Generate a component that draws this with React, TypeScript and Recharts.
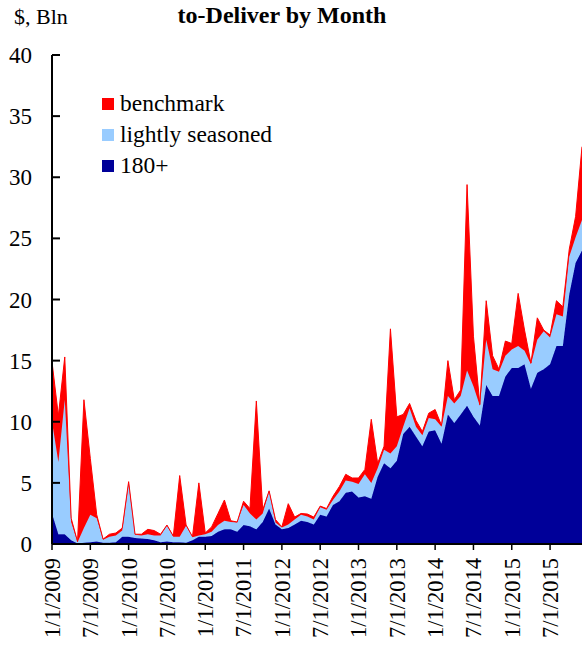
import React from 'react';
import { AreaChart, Area, XAxis, YAxis, Legend } from 'recharts';

const FONT = '"Liberation Serif", "Times New Roman", serif';

// monthly categories, Jan 2009 .. Dec 2015
const months = Array.from({ length: 84 }, (_, i) => `${(i % 12) + 1}/1/${2009 + Math.floor(i / 12)}`);

const yTicks = [0, 5, 10, 15, 20, 25, 30, 35, 40];

// $ bln
const seasoned180 = [
  2.5, 0.8, 0.8, 0.3, 0.05, 0.1, 0.15, 0.2, 0.1, 0.1,
  0.15, 0.6, 0.6, 0.5, 0.45, 0.4, 0.3, 0.15, 0.2, 0.15,
  0.15, 0.1, 0.3, 0.6, 0.6, 0.65, 1.0, 1.2, 1.2, 1.0,
  1.55, 1.45, 1.2, 1.8, 2.9, 1.6, 1.2, 1.3, 1.6, 1.9,
  1.8, 1.6, 2.4, 2.25, 3.2, 3.5, 4.2, 4.3, 3.8, 3.9,
  3.7, 5.5, 6.6, 6.2, 6.8, 9.0, 9.6, 8.8, 8.0, 9.2,
  9.3, 8.2, 10.6, 9.9, 10.6, 11.3, 10.4, 9.7, 13.0, 12.1,
  12.1, 13.7, 14.4, 14.4, 14.7, 12.7, 14.0, 14.3, 14.7, 16.2,
  16.2, 20.4, 23.0, 24.0,
];

const lightlySeasoned = [
  7.5, 5.9, 11.0, 1.5, 0.1, 1.2, 2.25, 1.9, 0.25, 0.5,
  0.55, 0.5, 4.3, 0.25, 0.25, 0.4, 0.4, 0.55, 1.3, 0.45,
  0.45, 1.4, 0.25, 0.1, 0.2, 0.35, 0.55, 0.7, 0.6, 0.75,
  1.65, 1.05, 0.8, 0.7, 1.4, 0.15, 0.15, 0.3, 0.4, 0.5,
  0.45, 0.4, 0.6, 0.55, 0.4, 0.8, 1.0, 0.8, 1.1, 1.8,
  1.3, 0.7, 1.1, 1.2, 1.2, 0.6, 1.5, 0.8, 0.9, 1.1,
  0.9, 1.4, 1.5, 1.6, 1.5, 2.9, 2.5, 1.6, 3.7, 2.2,
  2.0, 1.7, 1.5, 1.8, 1.1, 2.0, 2.7, 3.1, 2.2, 2.6,
  2.4, 3.1, 2.1, 2.5,
];

const benchmark = [
  4.9, 3.8, 3.5, 0.3, 0.05, 10.5, 4.6, 0.3, 0.05, 0.2,
  0.2, 0.2, 0.2, 0.05, 0.1, 0.4, 0.4, 0.1, 0.05, 0.05,
  5.0, 0.05, 0.05, 4.3, 0.1, 0.4, 0.95, 1.7, 0.1, 0.05,
  0.3, 0.4, 9.7, 0.3, 0.05, 0.25, 0.05, 1.7, 0.2, 0.1,
  0.2, 0.2, 0.1, 0.1, 0.3, 0.4, 0.5, 0.3, 0.5, 0.4,
  5.2, 0.4, 0.3, 10.2, 2.4, 1.0, 0.4, 0.5, 0.3, 0.4,
  0.8, 0.1, 2.9, 0.3, 0.5, 15.2, 4.1, 0.1, 3.2, 1.1,
  0.2, 1.2, 0.5, 4.3, 1.7, 0.1, 1.8, 0.1, 0.2, 1.1,
  0.8, 0.6, 1.7, 6.0,
];

const data = months.map((month, i) => ({
  month,
  s180: seasoned180[i],
  lightly: lightlySeasoned[i],
  bench: benchmark[i],
}));

const legendItems = [
  { name: 'benchmark', color: '#FF0000' },
  { name: 'lightly seasoned', color: '#99CCFF' },
  { name: '180+', color: '#000099' },
];

const YTick = (props: any) => {
  const { x, y, payload } = props;
  return (
    <g>
      <line x1={x} x2={x + 8} y1={y} y2={y} stroke="#000" strokeWidth={2} />
      <text x={x - 20} y={y} dy="0.35em" textAnchor="end" fontFamily={FONT} fontSize={23} fill="#000">
        {payload.value}
      </text>
    </g>
  );
};

const XTick = (props: any) => {
  const { x, y, payload } = props;
  return (
    <text
      x={x}
      y={y}
      dy="0.35em"
      textAnchor="end"
      transform={`rotate(-90, ${x}, ${y})`}
      fontFamily={FONT}
      fontSize={22.5}
      fill="#000"
    >
      {payload.value}
    </text>
  );
};

const LegendBox = () => (
  <div style={{ fontFamily: FONT, fontSize: 23.5, lineHeight: '31px', color: '#000' }}>
    {legendItems.map((it) => (
      <div key={it.name} style={{ display: 'flex', alignItems: 'center', whiteSpace: 'nowrap' }}>
        <span style={{ display: 'inline-block', width: 12, height: 12, background: it.color, marginRight: 6 }} />
        <span>{it.name}</span>
      </div>
    ))}
  </div>
);

export default function App() {
  return (
    <div style={{ position: 'absolute', left: 0, top: 0, width: 582, height: 645, background: '#fff', overflow: 'hidden' }}>
      <AreaChart width={582} height={645} data={data} margin={{ top: 55, right: 0, bottom: 0, left: 0 }}>
        <XAxis
          dataKey="month"
          interval={5}
          height={101}
          tickSize={6}
          tickMargin={8}
          axisLine={{ stroke: '#000', strokeWidth: 2 }}
          tickLine={{ stroke: '#000', strokeWidth: 1.5 }}
          tick={<XTick />}
        />
        <YAxis
          width={52}
          domain={[0, 40]}
          ticks={yTicks}
          tickSize={0}
          tickMargin={0}
          tickLine={false}
          axisLine={{ stroke: '#000', strokeWidth: 2 }}
          tick={<YTick />}
          allowDataOverflow
        />
        <Legend
          layout="vertical"
          align="center"
          verticalAlign="middle"
          wrapperStyle={{ left: 102, top: 88, width: 'auto' }}
          content={() => <LegendBox />}
        />
        <Area type="linear" dataKey="s180" name="180+" stackId="a" fill="#000099" stroke="#000099" strokeWidth={1} fillOpacity={1} isAnimationActive={false} />
        <Area type="linear" dataKey="lightly" name="lightly seasoned" stackId="a" fill="#99CCFF" stroke="#99CCFF" strokeWidth={1} fillOpacity={1} isAnimationActive={false} />
        <Area type="linear" dataKey="bench" name="benchmark" stackId="a" fill="#FF0000" stroke="#FF0000" strokeWidth={1} fillOpacity={1} isAnimationActive={false} />
      </AreaChart>
      <svg width={582} height={645} style={{ position: 'absolute', left: 0, top: 0, pointerEvents: 'none' }}>
        <text x={14} y={24} fontFamily={FONT} fontSize={22} fill="#000">$, Bln</text>
        <text x={282} y={23} textAnchor="middle" fontFamily={FONT} fontSize={24} fontWeight="bold" fill="#000">
          to-Deliver by Month
        </text>
      </svg>
    </div>
  );
}
